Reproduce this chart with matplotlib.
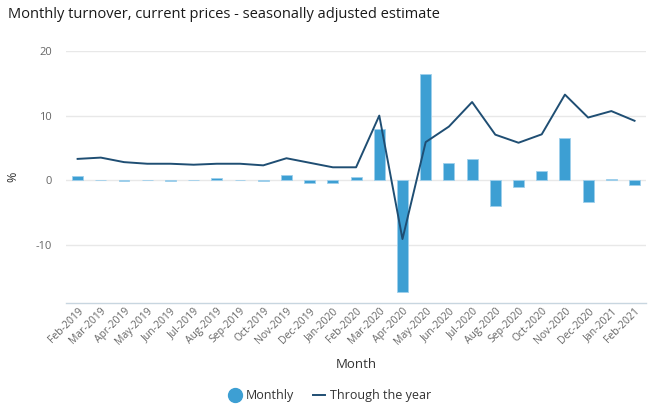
import matplotlib
matplotlib.use("Agg")
import matplotlib.pyplot as plt
from matplotlib.lines import Line2D
import numpy as np

months = ["Feb-2019", "Mar-2019", "Apr-2019", "May-2019", "Jun-2019", "Jul-2019",
          "Aug-2019", "Sep-2019", "Oct-2019", "Nov-2019", "Dec-2019", "Jan-2020",
          "Feb-2020", "Mar-2020", "Apr-2020", "May-2020", "Jun-2020", "Jul-2020",
          "Aug-2020", "Sep-2020", "Oct-2020", "Nov-2020", "Dec-2020", "Jan-2021",
          "Feb-2021"]
monthly = [0.6, 0.05, -0.05, 0.05, -0.05, 0.05, 0.3, 0.05, -0.05, 0.8, -0.4, -0.4,
           0.5, 8.0, -17.3, 16.5, 2.6, 3.3, -4.0, -1.0, 1.4, 6.6, -3.4, 0.2, -0.8]
through_year = [3.3, 3.5, 2.8, 2.55, 2.55, 2.4, 2.55, 2.55, 2.3, 3.4, 2.7, 2.0,
                2.0, 10.0, -9.1, 5.9, 8.3, 12.1, 7.05, 5.8, 7.1, 13.25, 9.7, 10.7, 9.2]
yticks = [-10, 0, 10, 20]

plt.rcParams['font.family'] = ['Open Sans', 'DejaVu Sans']

bar_color = "#3d9fd3"
line_color = "#1f4e73"
grey = "#666666"

fig = plt.figure(figsize=(6.6, 4.2), dpi=100)
ax = fig.add_axes([0.1, 0.2786, 0.879, 0.6])

x = np.arange(len(months))
ax.bar(x, monthly, width=0.47, color=bar_color, edgecolor="#9fd0ec", linewidth=0.6, zorder=2)
ax.plot(x, through_year, color=line_color, linewidth=1.4, zorder=3)

ax.set_xlim(-0.5, len(months) - 0.5)
ax.set_ylim(-19, 20)
ax.set_yticks(yticks)
ax.set_yticklabels([str(t) for t in yticks], color=grey, fontsize=8)
ax.yaxis.grid(True, color="#e8e8e8", linewidth=1, zorder=0)
ax.set_axisbelow(True)
ax.tick_params(axis='y', length=0, pad=10)
ax.tick_params(axis='x', length=0, pad=2)
ax.set_xticks(x)
ax.set_xticklabels(months, rotation=45, ha='right', rotation_mode='anchor',
                   fontsize=7.5, color=grey)
for s in ["top", "right", "left"]:
    ax.spines[s].set_visible(False)
ax.spines["bottom"].set_color("#c8d6e0")
ax.spines["bottom"].set_linewidth(1)

ax.set_ylabel("%", color="#333333", fontsize=9, labelpad=12)
ax.set_xlabel("Month", color="#333333", fontsize=9.5, labelpad=8)

fig.text(0.012, 0.965, "Monthly turnover, current prices - seasonally adjusted estimate",
         fontsize=10.5, color="#1a1a1a", ha='left', va='center')

handles = [Line2D([0], [0], marker='o', linestyle='none', markersize=10,
                  markerfacecolor=bar_color, markeredgecolor=bar_color),
           Line2D([0], [0], color=line_color, linewidth=1.4)]
fig.legend(handles, ["Monthly", "Through the year"], loc='center',
           bbox_to_anchor=(0.5, 0.058), ncol=2, frameon=False, fontsize=9,
           handlelength=1.0, handletextpad=0.4, columnspacing=1.5,
           labelcolor="#333333")

fig.savefig("out.png", dpi=100)
